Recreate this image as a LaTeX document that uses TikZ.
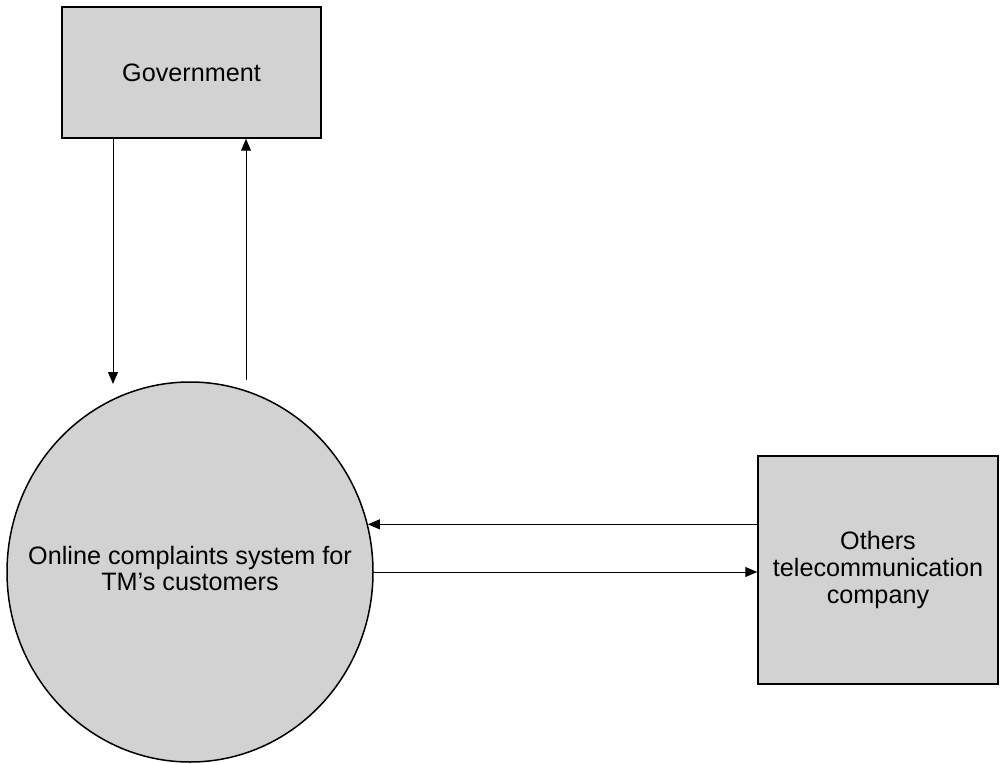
\documentclass[tikz,border=0pt]{standalone}
\usepackage{fontspec}
\setmainfont{Liberation Sans}
\usetikzlibrary{arrows.meta,shapes.geometric}

\tikzset{
    entity/.style={draw,line width=0.75pt,fill=gray!35,inner sep=0pt,align=center,
        font=\fontsize{12.6}{13.6}\selectfont},
    process/.style={entity,ellipse},
    flow/.style={line width=0.5pt,-{Triangle[length=6pt,width=5pt]}}
}

\begin{document}
\begin{tikzpicture}[x=0.5pt,y=-0.5pt]

\useasboundingbox (0,0) rectangle (1000,764);

\node[entity,minimum width=129.5pt,minimum height=65.5pt] (gov) at (191.5,72.5) {Government};

\node[process,minimum width=183pt,minimum height=190pt] (sys) at (190,572)
    {\makebox[0pt]{\raisebox{-3.5pt}{\begin{tabular}{@{}c@{}}Online complaints system for\\[-1pt]TM's customers\end{tabular}}}};

\node[entity,minimum width=120pt,minimum height=114pt] (others) at (878,570)
    {Others\\telecommunication\\company};

\coordinate (down) at (113,384);
\coordinate (up) at (246,380);

\draw[flow] (gov.south -| down) -- (down);
\draw[flow] (up) -- (gov.south -| up);

\draw[flow] (others.west |- sys.15) -- (sys.15);
\draw[flow] (sys.east) -- (sys.east -| others.west);

\end{tikzpicture}
\end{document}
